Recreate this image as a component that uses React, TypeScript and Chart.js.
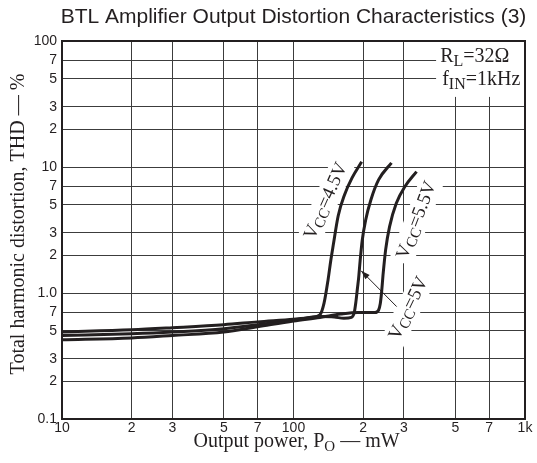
import { useEffect, useRef } from 'react';
import { Chart, registerables } from 'chart.js';

Chart.register(...registerables);

// ---- data ----
const xTickValues = [10, 20, 30, 50, 70, 100, 200, 300, 500, 700, 1000];
const xTickLabels = ['10', '2', '3', '5', '7', '100', '2', '3', '5', '7', '1k'];
const yTickValues = [0.1, 0.2, 0.3, 0.5, 0.7, 1, 2, 3, 5, 7, 10, 20, 30, 50, 70, 100];
const yTickLabels = ['0.1', '2', '3', '5', '7', '1.0', '2', '3', '5', '7', '10', '2', '3', '5', '7', '100'];

const vcc45Power = [10, 20, 30, 50, 70, 100, 120, 130, 135.5, 141, 145, 148.5, 156, 166, 179, 197];
const vcc45Thd = [0.49, 0.51, 0.53, 0.56, 0.59, 0.62, 0.64, 0.67, 0.83, 1.27, 1.83, 2.4, 4.1, 6.0, 8.2, 11.0];

const vcc5Power = [10, 20, 30, 50, 70, 100, 130, 150, 165, 178, 183, 186, 189, 191, 194, 198, 205, 216, 233, 265];
const vcc5Thd = [0.46, 0.475, 0.49, 0.52, 0.56, 0.61, 0.65, 0.645, 0.63, 0.64, 0.7, 0.85, 1.1, 1.3, 1.8, 2.6, 3.8, 5.5, 7.9, 10.8];

const vcc55Power = [10, 20, 30, 50, 70, 100, 130, 160, 190, 225, 233, 237, 240, 244, 250, 260, 278, 303, 340];
const vcc55Thd = [0.425, 0.44, 0.46, 0.49, 0.54, 0.6, 0.64, 0.68, 0.7, 0.7, 0.73, 0.82, 1.0, 1.43, 2.2, 3.36, 5.15, 7.0, 9.2];

const seriesNames = ['VCC=4.5V', 'VCC=5V', 'VCC=5.5V'];

// ---- annotations (positions in data units) ----
type Part = [string, boolean];
const vccLabels: { parts: Part[]; x: number; y: number; angle: number }[] = [
  { parts: [['V', false], ['CC', true], ['=4.5V', false]], x: 137, y: 5.4, angle: -66 },
  { parts: [['V', false], ['CC', true], ['=5.5V', false]], x: 338, y: 3.8, angle: -69 },
  { parts: [['V', false], ['CC', true], ['=5V', false]], x: 312, y: 0.76, angle: -64 },
];
const arrowFrom = { x: 279, y: 0.78 };
const arrowTo = { x: 196, y: 1.5 };
const condLine1: Part[] = [['R', false], ['L', true], ['=32Ω', false]];
const condLine2: Part[] = [['f', false], ['IN', true], ['=1kHz', false]];
const condAnchor = { x: 430, y1: 68, y2: 44.8, boxLeft: 413, boxBottom: 36 };

const TITLE = 'BTL Amplifier Output Distortion Characteristics (3)';
const X_TITLE: Part[] = [['Output power, P', false], ['O', true], [' — mW', false]];
const Y_TITLE = 'Total harmonic distortion, THD — %';

const INK = '#231f20';
const SERIF = '"Liberation Serif", "Times New Roman", serif';
const SANS = '"Liberation Sans", Arial, sans-serif';

function richWidths(ctx: CanvasRenderingContext2D, parts: Part[], mainPx: number, subPx: number) {
  return parts.map(([t, s]) => {
    ctx.font = `${s ? subPx : mainPx}px ${SERIF}`;
    return ctx.measureText(t).width;
  });
}

function drawRich(
  ctx: CanvasRenderingContext2D,
  parts: Part[],
  x: number,
  baseline: number,
  mainPx: number,
  subPx: number,
  drop: number,
  align: 'left' | 'center'
) {
  const ws = richWidths(ctx, parts, mainPx, subPx);
  const total = ws.reduce((a, b) => a + b, 0);
  let cx = align === 'center' ? x - total / 2 : x;
  ctx.textAlign = 'left';
  ctx.textBaseline = 'alphabetic';
  parts.forEach(([t, s], i) => {
    ctx.font = `${s ? subPx : mainPx}px ${SERIF}`;
    ctx.fillText(t, cx, s ? baseline + drop : baseline);
    cx += ws[i];
  });
  return total;
}

const annotPlugin = {
  id: 'annot',
  beforeDatasetsDraw(chart: any) {
    const { ctx, chartArea: a, scales } = chart;
    const xs = scales.x;
    const ys = scales.y;
    ctx.save();
    // white box behind condition text
    const bx = xs.getPixelForValue(condAnchor.boxLeft);
    const by = ys.getPixelForValue(condAnchor.boxBottom);
    ctx.fillStyle = '#fff';
    ctx.fillRect(bx, a.top, a.right - bx, by - a.top);

    // rotated VCC labels with white boxes
    const mainPx = 19;
    const subPx = 15;
    vccLabels.forEach((l) => {
      const px = xs.getPixelForValue(l.x);
      const py = ys.getPixelForValue(l.y);
      ctx.save();
      ctx.translate(px, py);
      ctx.rotate((l.angle * Math.PI) / 180);
      const ws = richWidths(ctx, l.parts, mainPx, subPx);
      const total = ws.reduce((p, q) => p + q, 0);
      ctx.fillStyle = '#fff';
      ctx.fillRect(-total / 2 - 4, -11, total + 8, 24);
      ctx.fillStyle = INK;
      drawRich(ctx, l.parts, 0, 6, mainPx, subPx, 3, 'center');
      ctx.restore();
    });

    // frame
    ctx.strokeStyle = INK;
    ctx.lineWidth = 2;
    ctx.strokeRect(a.left, a.top, a.right - a.left, a.bottom - a.top);

    // condition text
    ctx.fillStyle = INK;
    const cx = xs.getPixelForValue(condAnchor.x);
    drawRich(ctx, condLine1, cx, ys.getPixelForValue(condAnchor.y1), 20, 16, 4, 'left');
    drawRich(ctx, condLine2, cx + 2, ys.getPixelForValue(condAnchor.y2), 20, 16, 4, 'left');
    ctx.restore();
  },
  afterDatasetsDraw(chart: any) {
    const { ctx, scales } = chart;
    const x0 = scales.x.getPixelForValue(arrowFrom.x);
    const y0 = scales.y.getPixelForValue(arrowFrom.y);
    const x1 = scales.x.getPixelForValue(arrowTo.x);
    const y1 = scales.y.getPixelForValue(arrowTo.y);
    ctx.save();
    ctx.strokeStyle = INK;
    ctx.fillStyle = INK;
    ctx.lineWidth = 1;
    ctx.beginPath();
    ctx.moveTo(x0, y0);
    ctx.lineTo(x1, y1);
    ctx.stroke();
    const ang = Math.atan2(y1 - y0, x1 - x0);
    const L = 9;
    const W = 3;
    ctx.beginPath();
    ctx.moveTo(x1, y1);
    ctx.lineTo(x1 - L * Math.cos(ang) + W * Math.sin(ang), y1 - L * Math.sin(ang) - W * Math.cos(ang));
    ctx.lineTo(x1 - L * Math.cos(ang) - W * Math.sin(ang), y1 - L * Math.sin(ang) + W * Math.cos(ang));
    ctx.closePath();
    ctx.fill();
    ctx.restore();
  },
  afterDraw(chart: any) {
    const { ctx, chartArea: a } = chart;
    ctx.save();
    ctx.fillStyle = INK;
    // title
    ctx.font = `21px ${SANS}`;
    ctx.textAlign = 'center';
    ctx.textBaseline = 'alphabetic';
    ctx.fillText(TITLE, (a.left + a.right) / 2, 23);
    // x title
    drawRich(ctx, X_TITLE, (a.left + a.right) / 2 + 3, a.bottom + 28, 20, 15, 4, 'center');
    // y title
    ctx.translate(24, (a.top + a.bottom) / 2 - 6);
    ctx.rotate(-Math.PI / 2);
    ctx.font = `20px ${SERIF}`;
    ctx.textAlign = 'center';
    ctx.fillText(Y_TITLE, 0, 0);
    ctx.restore();
  },
};

export default function App() {
  const ref = useRef<HTMLCanvasElement | null>(null);
  useEffect(() => {
    if (!ref.current) return;
    const mk = (xs: number[], ys: number[]) => xs.map((x, i) => ({ x, y: ys[i] }));
    const seriesData = [mk(vcc45Power, vcc45Thd), mk(vcc5Power, vcc5Thd), mk(vcc55Power, vcc55Thd)];
    const chart = new Chart(ref.current, {
      type: 'line',
      data: {
        datasets: seriesData.map((d, i) => ({
          label: seriesNames[i],
          data: d,
          borderColor: INK,
          borderWidth: 3,
          pointRadius: 0,
          fill: false,
          cubicInterpolationMode: 'monotone' as const,
        })),
      },
      options: {
        animation: false,
        responsive: false,
        layout: { padding: { top: 41, right: 12, left: 0, bottom: 0 } },
        plugins: {
          legend: { display: false },
          tooltip: { enabled: false },
          title: { display: false },
        },
        scales: {
          x: {
            type: 'logarithmic',
            min: 10,
            max: 1000,
            afterBuildTicks: (s: any) => {
              s.ticks = xTickValues.map((v) => ({ value: v }));
            },
            afterFit: (s: any) => {
              s.height = 44;
            },
            ticks: {
              autoSkip: false,
              maxRotation: 0,
              padding: 1,
              color: INK,
              font: { family: SANS, size: 14 },
              callback: (_v: any, i: number) => xTickLabels[i],
            },
            grid: { color: '#3c3c3c', lineWidth: 1, drawTicks: false },
            border: { display: false },
          },
          y: {
            type: 'logarithmic',
            min: 0.1,
            max: 100,
            afterBuildTicks: (s: any) => {
              s.ticks = yTickValues.map((v) => ({ value: v }));
            },
            afterFit: (s: any) => {
              s.width = 62;
            },
            ticks: {
              autoSkip: false,
              padding: 5,
              color: INK,
              font: { family: SANS, size: 14 },
              callback: (_v: any, i: number) => yTickLabels[i],
            },
            grid: { color: '#3c3c3c', lineWidth: 1, drawTicks: false },
            border: { display: false },
          },
        },
      },
      plugins: [annotPlugin],
    } as any);
    return () => chart.destroy();
  }, []);
  return (
    <div style={{ position: 'absolute', left: 0, top: 0, width: 537, height: 463, background: '#fff' }}>
      <canvas ref={ref} width={537} height={463} />
    </div>
  );
}
